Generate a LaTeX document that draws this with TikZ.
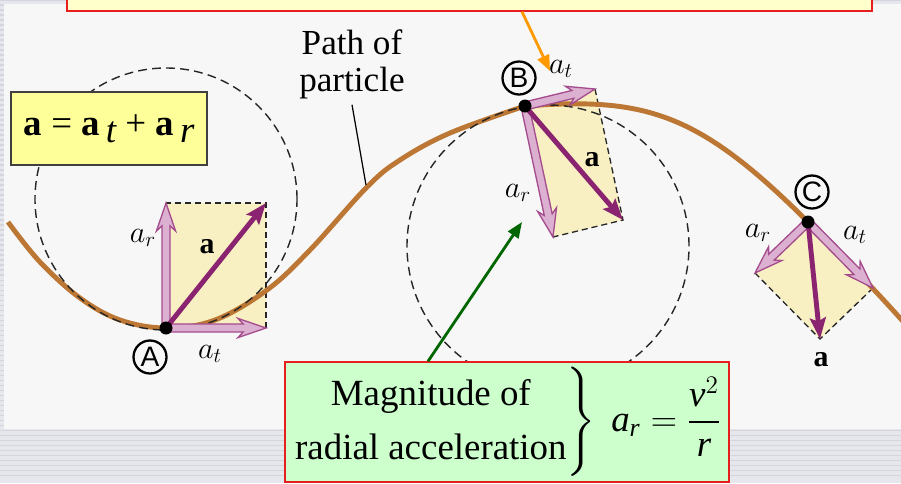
\documentclass[tikz,border=0pt]{standalone}
\usepackage{fontspec}
\setmainfont{Liberation Serif}
\setsansfont{Liberation Sans}
\usepackage{amsmath}
\usetikzlibrary{arrows.meta,calc,positioning}

\definecolor{pathbrown}{RGB}{187,119,51}
\definecolor{vecpurple}{RGB}{138,36,112}
\definecolor{compfill}{RGB}{220,176,208}
\definecolor{compline}{RGB}{164,76,142}
\definecolor{rectyellow}{RGB}{248,240,194}
\definecolor{panelgray}{RGB}{247,247,247}
\definecolor{stripelight}{RGB}{230,231,236}
\definecolor{stripedark}{RGB}{212,213,221}
\definecolor{notegreen}{RGB}{204,255,204}
\definecolor{noteyellow}{RGB}{255,255,153}
\definecolor{topyellow}{RGB}{255,255,204}
\definecolor{boxred}{RGB}{230,30,30}
\definecolor{arrowgreen}{RGB}{0,102,0}
\definecolor{arroworange}{RGB}{255,153,0}

% hollow component arrow from #1 to #2
\newcommand{\comparrow}[2]{%
  \filldraw[compvec]
    ($(#1)!2.3pt!90:(#2)$) --
    ($(#2)!13.2pt!-10.05:(#1)$) --
    ($(#2)!16.9pt!-18.9:(#1)$) --
    (#2) --
    ($(#2)!16.9pt!18.9:(#1)$) --
    ($(#2)!13.2pt!10.05:(#1)$) --
    ($(#1)!2.3pt!-90:(#2)$) -- cycle;}

\begin{document}
\begin{tikzpicture}[
    every node/.style={font=\fontsize{20}{21}\selectfont},
    pathline/.style={draw=pathbrown, line width=2.8pt},
    accvec/.style={draw=vecpurple, line width=2.8pt,
        -{Stealth[length=12pt,width=9pt,inset=2pt]}},
    compvec/.style={fill=compfill, draw=compline, line width=0.75pt},
    rectfill/.style={fill=rectyellow},
    rectedge/.style={draw=black!85, line width=0.75pt,
        dash pattern=on 3.5pt off 2.2pt},
    circdash/.style={draw=black!85, line width=0.8pt,
        dash pattern=on 5pt off 3pt},
    ptdot/.style={circle, fill=black, inner sep=0pt, minimum size=0.26cm},
    ptlabel/.style={circle, draw, line width=1.3pt, inner sep=0pt,
        minimum size=0.66cm, font=\sffamily\fontsize{16}{16}\selectfont},
    veclabel/.style={font=\fontsize{17}{17}\selectfont, inner sep=0pt}
]

% Slide background
\useasboundingbox (0,0) rectangle (18.02,-9.66);
\fill[stripelight] (0,0) rectangle (18.02,-9.66);
\foreach \y in {0,0.1,...,9.6}
    \draw[stripedark, line width=0.6pt] (0,-\y) -- (18.02,-\y);
\fill[panelgray] (0.08,-0.08) rectangle (18.02,-8.58);

% Box cut off at the top
\node[draw=boxred, fill=topyellow, line width=0.8pt, inner sep=0pt,
    minimum width=16.1cm, minimum height=1cm] (topbox) at (9.39,0.28) {};

% Points and acceleration components
\coordinate (A) at (3.32,-6.56);
\coordinate (At) at (5.32,-6.56);
\coordinate (Ar) at (3.32,-4.06);
\coordinate (Aa) at ($(At)+(Ar)-(A)$);

\coordinate (B) at (10.50,-2.12);
\coordinate (Bt) at (11.90,-1.78);
\coordinate (Br) at (11.06,-4.74);
\coordinate (Ba) at ($(Bt)+(Br)-(B)$);

\coordinate (C) at (16.16,-4.44);
\coordinate (Ct) at (17.46,-5.76);
\coordinate (Cr) at (15.10,-5.46);
\coordinate (Ca) at ($(Ct)+(Cr)-(C)$);

% Parallelograms
\fill[rectfill] (A) -- (At) -- (Aa) -- (Ar) -- cycle;
\fill[rectfill] (B) -- (Bt) -- (Ba) -- (Br) -- cycle;
\fill[rectfill] (C) -- (Ct) -- (Ca) -- (Cr) -- cycle;
\draw[rectedge] (At) -- (Aa) -- (Ar);
\draw[rectedge] (Bt) -- (Ba) -- (Br);
\draw[rectedge] (Ct) -- (Ca) -- (Cr);

% Path of the particle
\draw[pathline] plot[smooth, tension=0.6] coordinates {
    (0.16,-4.44) (0.80,-5.24) (1.60,-5.96) (2.40,-6.40) (3.32,-6.56)
    (4.30,-6.40) (5.34,-5.80) (6.20,-5.00) (7.34,-3.74) (8.00,-3.20)
    (9.00,-2.66) (10.50,-2.12)}
    .. controls (12.90,-1.94) and (13.96,-2.24) .. (C)
    .. controls (17.00,-5.28) and (17.60,-5.90) .. (18.30,-6.70);

% Osculating circles
\draw[circdash] (3.32,-3.98) circle[radius=2.62];
\draw[circdash] (10.96,-4.92) circle[radius=2.82];

% Label of the path
\node[align=center] (pathlbl) at (7.04,-1.28) {Path of\\particle};
\coordinate (pathpt) at (7.32,-3.70);
\draw[line width=0.7pt] (pathlbl.south) -- (pathpt);

% Vectors
\comparrow{A}{At}
\comparrow{A}{Ar}
\draw[accvec] (A) -- (Aa);

\comparrow{B}{Bt}
\comparrow{B}{Br}
\draw[accvec] (B) -- (Ba);

\comparrow{C}{Ct}
\comparrow{C}{Cr}
\draw[accvec] (C) -- (Ca);

\node[ptdot] (dotA) at (A) {};
\node[ptdot] (dotB) at (B) {};
\node[ptdot] (dotC) at (C) {};

% Vector labels
\node[veclabel] (arA) at (2.86,-4.76) {$a_r$};
\node[veclabel] (aA) at (4.14,-4.94) {\textbf{a}};
\node[veclabel] (atA) at (4.20,-7.08) {$a_t$};
\node[ptlabel] (labA) at (3.00,-7.14) {A};

\node[veclabel] (atB) at (11.22,-1.38) {$a_t$};
\node[veclabel] (aB) at (11.84,-3.20) {\textbf{a}};
\node[veclabel] (arB) at (10.36,-3.86) {$a_r$};
\node[ptlabel] (labB) at (10.38,-1.56) {B};

\node[veclabel] (arC) at (15.16,-4.66) {$a_r$};
\node[veclabel] (atC) at (17.10,-4.70) {$a_t$};
\node[veclabel] (aC) at (16.42,-7.20) {\textbf{a}};
\node[ptlabel] (labC) at (16.24,-3.84) {C};

% Formula boxes
\node[draw=black!75, fill=noteyellow, line width=0.8pt,
    minimum width=3.92cm, minimum height=1.46cm,
    font=\fontsize{21}{24}\selectfont] (sumbox) at (2.18,-2.57)
    {\textbf{a} = \textbf{a}\,\raisebox{-.4ex}{\itshape t} +
     \textbf{a}\,\raisebox{-.4ex}{\itshape r}};

\node[draw=boxred, fill=notegreen, line width=0.8pt, inner sep=0pt,
    minimum width=8.88cm, minimum height=2.4cm,
    font=\fontsize{21}{22}\selectfont] (magbox) at (10.14,-8.44)
    {\def\arraystretch{1.4}%
     $\left.\begin{tabular}{@{}c@{}}Magnitude of\\radial acceleration\end{tabular}\right\}
     \ \textit{a}_{\textit{r}} = \dfrac{\textit{v}^{2}}{\textit{r}}$};

% Pointers
\coordinate (greentip) at (10.44,-4.44);
\draw[arrowgreen, line width=1.6pt, -{Triangle[length=9pt,width=7pt]}]
    ([xshift=-1.58cm]magbox.north) -- (greentip);

\coordinate (orangetip) at (11.00,-1.42);
\draw[arroworange, line width=1.6pt, -{Triangle[length=9pt,width=7pt]}]
    ([xshift=1.05cm]topbox.south) -- (orangetip);

\end{tikzpicture}
\end{document}
